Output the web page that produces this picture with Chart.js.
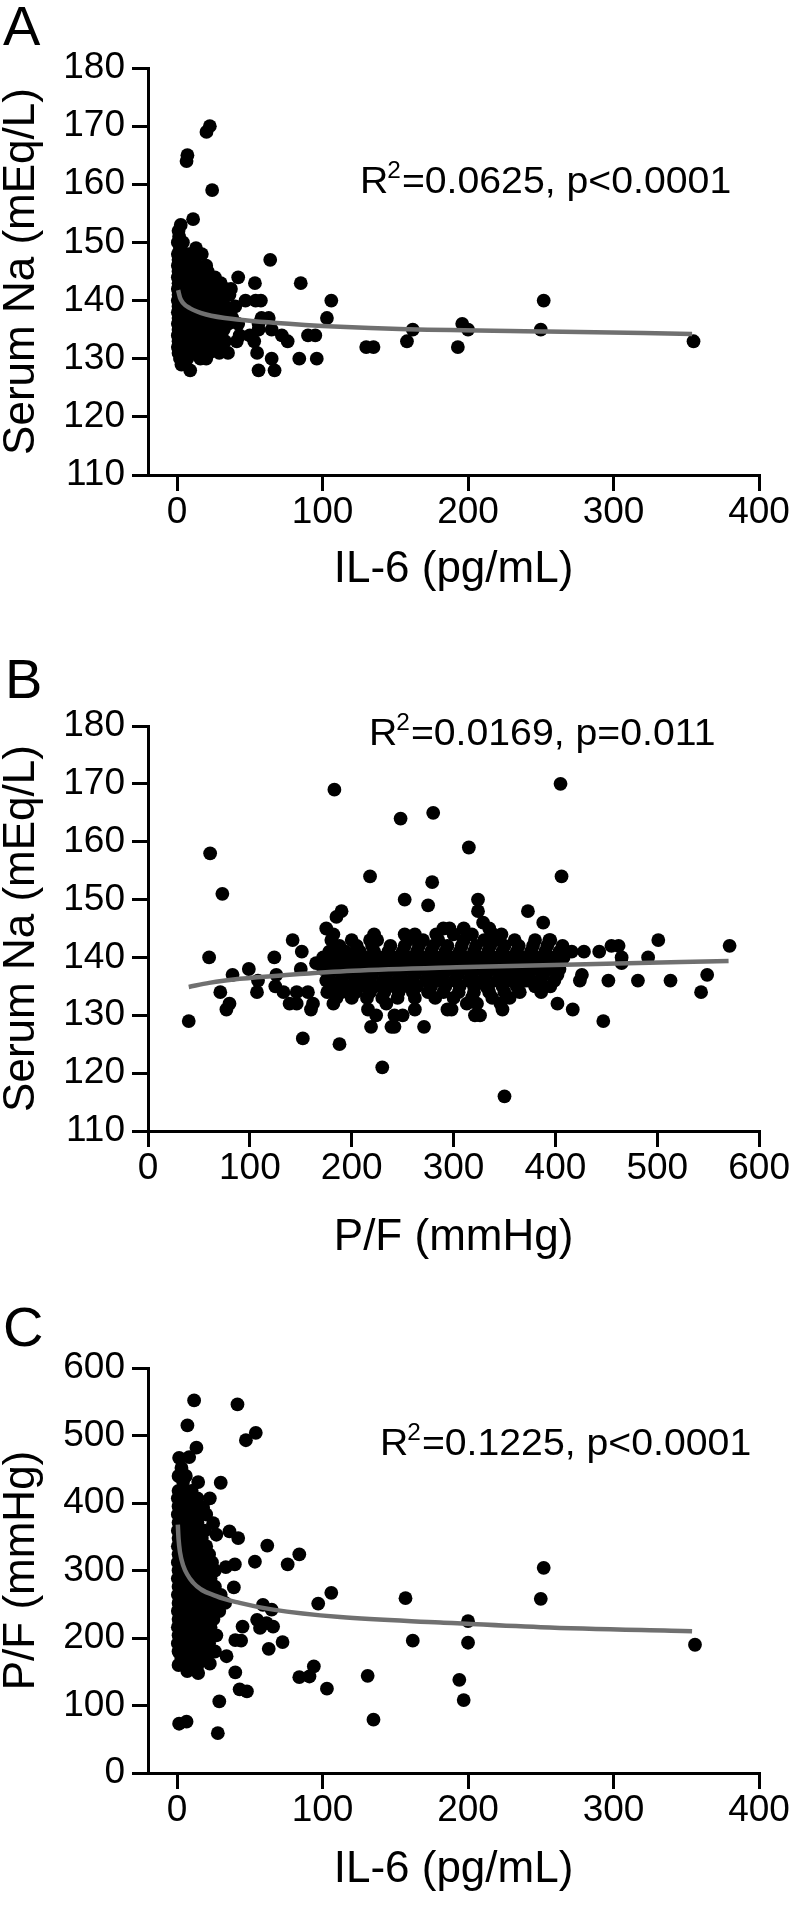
<!DOCTYPE html>
<html>
<head>
<meta charset="utf-8">
<title>Serum Na, IL-6 and P/F</title>
<script src="https://cdn.jsdelivr.net/npm/chart.js@4.4.1/dist/chart.umd.min.js"></script>
<style>
  html, body { margin: 0; padding: 0; background: #fff; }
  #wrap { position: relative; width: 793px; height: 1906px; overflow: hidden; }
  canvas { position: absolute; left: 0; }
</style>
</head>
<body>
<div id="wrap">
  <canvas id="chartA" width="793" height="640" style="top:0px"></canvas>
  <canvas id="chartB" width="793" height="680" style="top:620px"></canvas>
  <canvas id="chartC" width="793" height="646" style="top:1260px"></canvas>
</div>
<script>
// ---- tick values ----
const naTicks = [110, 120, 130, 140, 150, 160, 170, 180];
const il6Ticks = [0, 100, 200, 300, 400];
const pfTicks = [0, 100, 200, 300, 400, 500, 600];

// ---- stats text ----
const panelLetters = ['A', 'B', 'C'];
const statR2 = ['0.0625', '0.0169', '0.1225'];
const statP = ['p<0.0001', 'p=0.011', 'p<0.0001'];

// ---- panel A: IL-6 (pg/mL) vs serum Na (mEq/L) ----
const aPoints = [
  [22.5,170],[20.2,169],[7.1,165],[6.5,164],[24.1,159],[11,154],[2.5,153],[1,152],[1.4,151],
  [0.5,150],[4,150],[2,149],[13,149],
  [0.5,148],[3,148],[8,148],[17,148],
  [1,147],[5,147],[11,147],[64,147],
  [0.5,146],[3,146],[7,146],[14,146],[20,146],
  [1,145],[4,145],[9,145],[16,145],[21,145],
  [0.5,144],[3,144],[7,144],[12,144],[18,144],[26,144],[42,144],
  [1,143],[5,143],[10,143],[15,143],[22,143],[30,143],[53.5,143],[85,143],
  [0.5,142],[3,142],[7,142],[12,142],[18,142],[24,142],[33,142],[37,142],
  [1,141],[5,141],[10,141],[15,141],[20,141],[27,141],[36,141],
  [0.5,140],[3,140],[7,140],[12,140],[17,140],[23,140],[30,140],[47,140],[54,140],[57.6,140],[106,140],[252,140],
  [1,139],[5,139],[10,139],[15,139],[20,139],[26,139],[33,139],[40,139],
  [0.5,138],[3,138],[7,138],[12,138],[17,138],[23,138],[30,138],[36,138],
  [1,137],[5,137],[10,137],[15,137],[20,137],[26,137],[32,137],[38,137],[58,137],[63,137],[103,137],
  [0.5,136],[3,136],[7,136],[12,136],[17,136],[23,136],[29,136],[35,136],[42,136],[56,136],[196,136],[200,135],
  [1,135],[5,135],[10,135],[15,135],[20,135],[26,135],[32,135],[56,135],[65,135],[162,135],[250,135],
  [0.5,134],[3,134],[7,134],[12,134],[17,134],[23,134],[29,134],[43,134],[50,134],[72,134],[90,134],[95,134],
  [1,133],[5,133],[10,133],[15,133],[20,133],[27,133],[33,133],[41,133],[53,133],[76,133],[158,133],[355,133],
  [0.5,132],[3,132],[7,132],[12,132],[17,132],[23,132],[30,132],[130,132],[135,132],[193,132],
  [1,131],[5,131],[10,131],[16,131],[22,131],[29,131],[35,131],[55,131],
  [2,130],[7,130],[16,130],[20,130],[65,130],[84,130],[96,130],
  [3,129],[9,128],[56,128],[67,128]
];
const aCurve = [[0.7,141.8],[2,140.5],[4,139.6],[8.7,138.7],[20,137.6],[43,136.7],[66,136.2],[112,135.5],[153,135.1],[254,134.7],[354,134.25]];

// ---- panel B: P/F (mmHg) vs serum Na (mEq/L) ----
const bOuter = [
  [40,129],[61,158],[60,140],[73,151],[71,134],[77,131],[80,132],[83,137],[99,138],[108,136],[107,134],
  [124,140],[126,137],[125,135],[133,134],[142,143],[151,141],[150,138],[152,126],[139,132],[146,132],
  [146,134],[157,134],[160,131],[162,132],[165,139],[188,125],
  [183,169],[218,154],[248,164],[230,121],[252,150],[280,165],[279,153],[275,149],[315,159],[324,150],
  [350,116],[405,170],[406,154],
  [175,145],[182,144],[185,147],[190,148],[218,143],[252,144],[290,145],[296,145],[310,145],[324,148],
  [329,146],[339,144],[347,144],[373,148],[388,146],[394,143],[407,142],[416,141],[428,141],[443,141],
  [455,142],[462,142],[465,140],[465,139],[491,140],[501,143],[571,142],
  [426,137],[424,136],[452,136],[481,136],[513,136],[549,137],[543,134],
  [417,131],[402,132],[447,129],[386,134],[365,134],[346,132],[348,131],[326,130],[321,130],[298,131],
  [294,131],[313,132],[323,132],[332,135],[352,136],[365,136],[374,136],[399,136],[404,138],
  [216,131],[224,130],[219,128],[239,128],[242,128],[250,130],[242,130],[271,128],[262,131],[234,132],[182,132],
  [222,144],[262,144],[283,144],[300,144],[318,144],[335,145]
];
const bBlob = [
  [180,143],[200,143],[225,143],[255,143],[270,143],[285,143],[310,143],[330,143],[345,143],[360,143],[380,143],[395,143],
  [188,142],[205,142],[220,142],[238,142],[252,142],[266,142],[280,142],[294,142],[308,142],[322,142],[336,142],[350,142],[364,142],[378,142],[392,142],
  [178,141],[194,141],[208,141],[222,141],[236,141],[250,141],[264,141],[278,141],[292,141],[306,141],[320,141],[334,141],[348,141],[362,141],[376,141],[390,141],[404,141],
  [172,140],[185,140],[199,140],[213,140],[227,140],[241,140],[255,140],[269,140],[283,140],[297,140],[311,140],[325,140],[339,140],[353,140],[367,140],[381,140],[395,140],[408,140],
  [178,139],[192,139],[206,139],[220,139],[234,139],[248,139],[262,139],[276,139],[290,139],[304,139],[318,139],[332,139],[346,139],[360,139],[374,139],[388,139],[402,139],
  [172,138],[185,138],[199,138],[213,138],[227,138],[241,138],[255,138],[269,138],[283,138],[297,138],[311,138],[325,138],[339,138],[353,138],[367,138],[381,138],[395,138],
  [178,137],[192,137],[206,137],[220,137],[234,137],[248,137],[262,137],[276,137],[290,137],[304,137],[318,137],[332,137],[346,137],[360,137],[374,137],[388,137],[402,137],
  [175,136],[189,136],[203,136],[217,136],[231,136],[245,136],[259,136],[273,136],[287,136],[301,136],[315,136],[329,136],[343,136],[357,136],[371,136],[385,136],
  [180,135],[194,135],[208,135],[222,135],[236,135],[250,135],[264,135],[278,135],[292,135],[306,135],[320,135],[334,135],[348,135],[362,135],[380,135],[395,135],
  [176,134],[190,134],[204,134],[218,134],[232,134],[246,134],[260,134],[275,134],[290,134],[305,134],[320,134],[335,134],[350,134],
  [185,133],[200,133],[215,133],[230,133],[245,133],[262,133],[282,133],[300,133],[318,133],[338,133],[355,133],
  [196,138],[231,139],[266,138],[301,139],[336,138],[371,139],[212,137],[247,136],[282,137],[317,136],[352,137],[387,138]
];
const bCurve = [[40,134.9],[60,135.6],[90,136.3],[139,137.0],[201,137.7],[303,138.3],[450,138.9],[570,139.4]];

// ---- panel C: IL-6 (pg/mL) vs P/F (mmHg) ----
const cPoints = [
  [11.7,552],[41.5,546],[7.1,515],[47.3,493],[54.1,504],[13.3,482],
  [1.4,467],[8.3,468],[3,452],[1,440],[6,440],[4.1,432],[14.5,431],[30,430],
  [1,418],[5,418],[10,418],
  [0.5,407],[3,407],[8,407],[14,407],[22.5,407],
  [1,395],[5,395],[10,395],[17.9,393],
  [0.5,383],[3,383],[7,383],[12,383],[16,383],[20,383],
  [1,371],[5,371],[9,371],[14,371],[24.8,370],
  [0.5,359],[3,359],[7,359],[11,359],[15,359],[19,359],[27,353],[36,358],
  [1,348],[5,348],[9,348],[13,348],[17,348],[42,348],
  [0.5,336],[3,336],[7,336],[11,336],[15,336],[20,336],[62,337],
  [1,324],[5,324],[9,324],[13,324],[17,324],[22,324],[84,324],
  [0.5,312],[3,312],[7,312],[11,312],[15,312],[19,312],[24,312],[53.5,313],[76,309],
  [1,300],[5,300],[9,300],[13,300],[17,300],[21,300],[26,300],[33.5,305],[39.7,309],
  [0.5,288],[3,288],[7,288],[11,288],[15,288],[19,288],[23,288],
  [1,276],[5,276],[9,276],[13,276],[17,276],[21,276],[26,276],[39,275],
  [0.5,264],[3,264],[7,264],[11,264],[15,264],[19,264],[24,264],[30,264],[106,267],
  [1,252],[5,252],[9,252],[13,252],[17,252],[21,252],[27,252],[33,252],[97,251],[59,249],[157,259],
  [0.5,240],[3,240],[7,240],[11,240],[15,240],[19,240],[23,240],[29,240],[65,242],
  [1,228],[5,228],[9,228],[13,228],[17,228],[21,228],[25,228],[55,227],[61.5,222],
  [0.5,216],[3,216],[7,216],[11,216],[15,216],[19,216],[23,216],[45,217],[57,215],[66,217],
  [1,204],[5,204],[9,204],[13,204],[17,204],[21,204],[27,204],
  [0.5,192],[3,192],[7,192],[12,192],[17,192],[22,192],[40,197],[44,196],[72.5,194],[162,196],
  [1,180],[6,180],[11,180],[16,180],[21,180],[26,180],[63,184],
  [2,177],[9,175],[3,170],[9,170],[15,170],[20,170],[34,173],
  [1,160],[8,160],[14,160],[22.5,162],
  [7,151],[14.5,148],[40,149],
  [43,124],[48,121],[29,106],[28,59],[1.4,73],[6.5,76],
  [84,142],[91,143],[94,158],[103,125],[131,144],[135,79],
  [356,190],[252,304],[250,258],[200,225],[200,193],[194,138],[197,108]
];
const cCurve = [[0.5,368],[1,347],[2,327],[4.1,308],[11,282],[27,262],[43,252],[66,242],[112,231],[181,223],[250,216],[354,210]];

const FONT = '"Liberation Sans", Arial, Helvetica, sans-serif';
const CURVE_COLOR = '#707070';

function toXY(list) {
  return list.map(p => ({ x: p[0], y: p[1] }));
}

// panel letter and the R^2 / p annotation
const panelText = {
  id: 'panelText',
  afterDraw(chart, args, o) {
    const ctx = chart.ctx;
    ctx.save();
    ctx.fillStyle = '#000';
    ctx.textBaseline = 'alphabetic';
    ctx.textAlign = 'left';
    ctx.font = '56px ' + FONT;
    ctx.fillText(o.letter, o.letterX, o.letterY);

    ctx.translate(o.statX, o.statY);
    ctx.scale(1.06, 1);
    ctx.font = '37px ' + FONT;
    ctx.fillText('R', 0, 0);
    let w = ctx.measureText('R').width;
    ctx.font = '23px ' + FONT;
    ctx.fillText('2', w - 1, -15);
    w += ctx.measureText('2').width;
    ctx.font = '37px ' + FONT;
    ctx.fillText('=' + o.r2 + ', ' + o.p, w, 0);
    ctx.restore();
  }
};

function makePanel(id, o) {
  return new Chart(document.getElementById(id), {
    type: 'scatter',
    data: {
      datasets: [
        {
          type: 'line',
          data: toXY(o.curve),
          borderColor: CURVE_COLOR,
          borderWidth: 4.5,
          pointRadius: 0,
          pointHoverRadius: 0,
          cubicInterpolationMode: 'monotone',
          fill: false,
          order: 0,
          clip: false
        },
        {
          data: toXY(o.points),
          pointRadius: 6.9,
          pointHoverRadius: 6.9,
          backgroundColor: '#000',
          borderWidth: 0,
          order: 1,
          clip: false
        }
      ]
    },
    options: {
      responsive: false,
      animation: false,
      events: [],
      layout: {
        autoPadding: false,
        padding: { top: o.top, right: 793 - o.right, bottom: 0, left: 0 }
      },
      plugins: {
        legend: { display: false },
        tooltip: { enabled: false },
        panelText: o.text
      },
      scales: {
        x: {
          type: 'linear',
          position: 'bottom',
          min: o.xMin,
          max: o.xMax,
          afterBuildTicks: s => { s.ticks = o.xTicks.map(v => ({ value: v })); },
          afterFit: s => { s.height = o.xHeight; },
          border: { display: true, color: '#000', width: 3 },
          grid: {
            drawOnChartArea: false,
            drawTicks: true,
            tickLength: 16,
            tickWidth: 3,
            tickColor: '#000',
            color: '#000',
            lineWidth: 3
          },
          ticks: {
            color: '#000',
            font: { family: FONT, size: 37, lineHeight: 1 },
            padding: 3,
            maxRotation: 0,
            autoSkip: false
          },
          title: {
            display: true,
            text: o.xTitle,
            color: '#000',
            font: { family: FONT, size: 44, lineHeight: 1 },
            padding: { top: 0, bottom: o.xTitlePad }
          }
        },
        y: {
          type: 'linear',
          position: 'left',
          min: o.yMin,
          max: o.yMax,
          afterBuildTicks: s => { s.ticks = o.yTicks.map(v => ({ value: v })); },
          afterFit: s => { s.width = 148; },
          border: { display: true, color: '#000', width: 3 },
          grid: {
            drawOnChartArea: false,
            drawTicks: true,
            tickLength: 16,
            tickWidth: 3,
            tickColor: '#000',
            color: '#000',
            lineWidth: 3
          },
          ticks: {
            color: '#000',
            font: { family: FONT, size: 37, lineHeight: 1 },
            padding: 7,
            autoSkip: false
          },
          title: {
            display: true,
            text: o.yTitle,
            color: '#000',
            font: { family: FONT, size: 44, lineHeight: 1 },
            padding: { top: 0, bottom: 0 }
          }
        }
      }
    },
    plugins: [panelText]
  });
}

makePanel('chartA', {
  points: aPoints, curve: aCurve,
  top: 68, right: 759, xHeight: 165, xTitlePad: 48,
  xMin: -20, xMax: 400, xTicks: il6Ticks, xTitle: 'IL-6 (pg/mL)',
  yMin: 110, yMax: 180, yTicks: naTicks, yTitle: 'Serum Na (mEq/L)',
  text: { letter: panelLetters[0], letterX: 3, letterY: 45, statX: 360, statY: 193, r2: statR2[0], p: statP[0] }
});

makePanel('chartB', {
  points: bOuter.concat(bBlob), curve: bCurve,
  top: 106, right: 760, xHeight: 169, xTitlePad: 40,
  xMin: 0, xMax: 600, xTicks: pfTicks, xTitle: 'P/F (mmHg)',
  yMin: 110, yMax: 180, yTicks: naTicks, yTitle: 'Serum Na (mEq/L)',
  text: { letter: panelLetters[1], letterX: 5, letterY: 78, statX: 369, statY: 125, r2: statR2[1], p: statP[1] }
});

makePanel('chartC', {
  points: cPoints, curve: cCurve,
  top: 108, right: 759, xHeight: 133, xTitlePad: 14,
  xMin: -20, xMax: 400, xTicks: il6Ticks, xTitle: 'IL-6 (pg/mL)',
  yMin: 0, yMax: 600, yTicks: pfTicks, yTitle: 'P/F (mmHg)',
  text: { letter: panelLetters[2], letterX: 3, letterY: 86, statX: 380, statY: 195, r2: statR2[2], p: statP[2] }
});
</script>
</body>
</html>
